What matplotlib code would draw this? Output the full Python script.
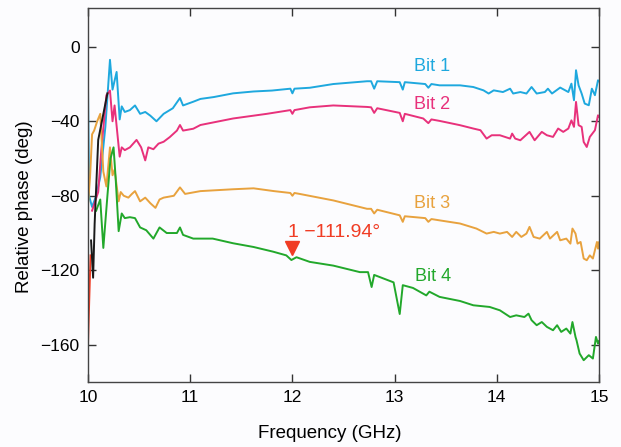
import matplotlib.pyplot as plt
import matplotlib.transforms as mtransforms

# --- DATA ---
bit1_f = [10.00, 10.01, 10.04, 10.08, 10.12, 10.17, 10.215, 10.24, 10.28, 10.31,
          10.33, 10.36, 10.41, 10.46, 10.51, 10.56, 10.61, 10.67, 10.74, 10.83,
          10.90, 10.93, 11.03, 11.10, 11.23, 11.42, 11.62, 11.80, 11.98, 12.00,
          12.02, 12.17, 12.40, 12.73, 12.77, 12.80, 12.83, 13.05, 13.08, 13.10,
          13.30, 13.33, 13.36, 13.44, 13.64, 13.77, 13.87, 13.92, 13.97, 14.06,
          14.13, 14.16, 14.23, 14.29, 14.34, 14.39, 14.47, 14.50, 14.54, 14.62,
          14.70, 14.73, 14.755, 14.775, 14.80, 14.83, 14.86, 14.90, 14.93, 14.96,
          14.99, 15.00]
bit1_v = [-20, -80, -86, -80, -70, -43, -7, -23, -13.5, -39,
          -32, -35, -34, -31.5, -36, -35, -37, -40, -36, -33,
          -27.5, -31.5, -29.5, -28, -27, -25, -24, -23.5, -22.5, -25,
          -22.5, -22, -20, -18.5, -18.5, -22.5, -18.5, -19, -23, -19,
          -20, -22, -20, -20.7, -20.7, -21.6, -23.4, -25.1, -23.4, -24.3,
          -22.5, -25.1, -24.3, -25.1, -21.6, -25.1, -24.3, -22.5, -25.1, -21.9,
          -24.3, -19.8, -28.7, -12.6, -20.7, -25.1, -30.5, -31.4, -22.5, -26,
          -18, -18.5]

bit2_f = [10.04, 10.10, 10.13, 10.18, 10.215, 10.24, 10.26, 10.31, 10.33, 10.36,
          10.41, 10.475, 10.52, 10.56, 10.59, 10.64, 10.69, 10.74, 10.80, 10.87,
          10.90, 10.93, 11.03, 11.10, 11.42, 11.75, 11.98, 12.00, 12.02, 12.17,
          12.40, 12.73, 12.77, 12.80, 12.83, 13.05, 13.08, 13.10, 13.28, 13.33,
          13.36, 13.44, 13.64, 13.77, 13.84, 13.90, 13.95, 14.03, 14.13, 14.15,
          14.18, 14.23, 14.32, 14.37, 14.44, 14.49, 14.55, 14.60, 14.65, 14.70,
          14.73, 14.755, 14.775, 14.80, 14.83, 14.85, 14.88, 14.91, 14.96, 14.99,
          15.00]
bit2_v = [-88, -78, -55.5, -26, -23.5, -40, -31.5, -59, -54, -55.5,
          -54, -50, -54, -61, -54, -55, -52, -51, -48.5, -45,
          -42, -45, -44, -42, -38.5, -36, -34, -36, -34, -32.5,
          -31.5, -32.3, -32.5, -35.5, -33, -35.5, -40, -36, -38.5, -41,
          -39, -39.8, -42.1, -43.9, -44.8, -49.3, -47.5, -47.5, -49.3, -46.6,
          -49.3, -50.2, -45.7, -50.2, -45.7, -47.5, -48.4, -43.9, -45.7, -43.9,
          -39.5, -43, -29.6, -42.1, -43, -51.1, -53.8, -48.4, -44.8, -36.8,
          -37.5]

bit3_f = [10.00, 10.02, 10.04, 10.06, 10.09, 10.12, 10.15, 10.18, 10.215, 10.24,
          10.26, 10.30, 10.32, 10.35, 10.395, 10.43, 10.46, 10.51, 10.56, 10.61,
          10.66, 10.70, 10.74, 10.84, 10.90, 10.95, 11.10, 11.42, 11.62, 11.82,
          11.98, 12.00, 12.02, 12.07, 12.40, 12.73, 12.77, 12.80, 12.83, 13.05,
          13.08, 13.10, 13.30, 13.33, 13.36, 13.44, 13.64, 13.80, 13.90, 13.97,
          14.03, 14.10, 14.15, 14.19, 14.24, 14.29, 14.32, 14.36, 14.42, 14.49,
          14.52, 14.59, 14.62, 14.68, 14.72, 14.74, 14.77, 14.79, 14.82, 14.85,
          14.88, 14.91, 14.94, 14.98, 14.99, 15.00]
bit3_v = [-85, -70, -47, -45, -40, -36, -67, -75, -54, -69,
          -66, -83, -78, -80, -81, -79, -77.5, -83, -81, -84,
          -86.5, -82, -81, -80, -75.5, -79, -77.5, -76.5, -76, -77.5,
          -78.5, -80, -78.5, -79, -82.5, -87, -87, -89.5, -87.5, -90.5,
          -94, -91, -92, -94, -92.5, -93.2, -94.9, -97.6, -100.3, -99.4,
          -100.3, -99.4, -102.1, -99.4, -102.1, -100.3, -96.7, -102.1, -103, -99.4,
          -103, -99.4, -103.9, -103, -105.7, -97.6, -100.3, -105.7, -104.8, -113.7,
          -114.6, -112, -113.7, -104.8, -108.4, -105]

bit4_f = [10.08, 10.12, 10.15, 10.19, 10.22, 10.25, 10.27, 10.30, 10.33, 10.36,
          10.41, 10.46, 10.51, 10.57, 10.64, 10.70, 10.77, 10.87, 10.90, 10.93,
          11.03, 11.22, 11.42, 11.62, 11.81, 11.94, 11.99, 12.04, 12.17, 12.40,
          12.66, 12.74, 12.775, 12.80, 12.99, 13.05, 13.08, 13.18, 13.31, 13.34,
          13.44, 13.64, 13.77, 13.93, 14.03, 14.13, 14.19, 14.27, 14.31, 14.34,
          14.39, 14.44, 14.49, 14.55, 14.59, 14.63, 14.68, 14.72, 14.74, 14.77,
          14.78, 14.81, 14.85, 14.90, 14.94, 14.97, 14.99, 15.00]
bit4_v = [-88, -82, -108, -80, -60, -54, -70, -99, -89.5, -92,
          -91.5, -92, -97, -98.5, -103, -97, -100, -100, -97, -101,
          -103, -103, -105.5, -107.5, -110, -112, -114.5, -113, -115.5, -117.5,
          -121, -121, -129, -122.5, -126.5, -143.5, -128, -129.5, -133.5, -131.5,
          -134.3, -136.5, -138.8, -139.7, -141.5, -145.1, -144.2, -145.1, -143.3, -146.8,
          -149.5, -147.8, -150.4, -152.2, -149.5, -153.1, -151.3, -154, -147.8, -155.8,
          -157.6, -164.7, -168.3, -165.6, -167.4, -155.8, -159.4, -158]

# short start-up traces near 10 GHz
red_f = [10.00, 10.01, 10.025]
red_v = [-160, -140, -112]
black_f = [10.03, 10.05, 10.065, 10.10, 10.19]
black_v = [-104, -124, -95, -50, -25]

marker_f = 12.0
marker_v = -111.94

labels = ["Bit 1", "Bit 2", "Bit 3", "Bit 4"]
label_pos = [(13.37, -10.5), (13.37, -31), (13.37, -84), (13.38, -123.5)]
colors = ["#1ea8de", "#e8317b", "#e8a23e", "#22a82b"]

plt.rcParams['font.family'] = ['Liberation Sans', 'DejaVu Sans']

fig = plt.figure(figsize=(6.21, 4.47), dpi=100, facecolor='#fcfcfe')
ax = fig.add_axes([0.1417, 0.1454, 0.8229, 0.8366])
ax.set_facecolor('#fcfcfe')

series = [(bit1_f, bit1_v), (bit2_f, bit2_v), (bit3_f, bit3_v), (bit4_f, bit4_v)]
for (f, v), c in zip(series, colors):
    ax.plot(f, v, color=c, lw=1.4)
ax.plot(red_f, red_v, color='#f03c24', lw=1.4)
ax.plot(black_f, black_v, color='#1a1a1a', lw=1.4)

for lab, (x, y), c in zip(labels, label_pos, colors):
    ax.text(x, y, lab, color=c, fontsize=13, ha='center', va='center')

# marker: tip of the triangle sits on the value
shift = mtransforms.offset_copy(ax.transData, fig=fig, x=0, y=5, units='points')
ax.plot(marker_f, marker_v, marker='v', color='#f03c24', ms=10, transform=shift)
ax.text(11.955, -99.5, "1 \u2212111.94\u00b0", color='#f03c24', fontsize=14,
        ha='left', va='center')

ax.set_xlim(10, 15)
ax.set_ylim(-180, 20.8)
ax.set_xticks([10, 11, 12, 13, 14, 15])
ax.set_yticks([0, -40, -80, -120, -160])
ax.set_yticklabels(["0", "\u221240", "\u221280", "\u2212120", "\u2212160"])
ax.tick_params(direction='in', length=6, width=1, labelsize=12.5, color='#333333',
               top=True, right=True, pad=6)
for s in ax.spines.values():
    s.set_color('#444444')
    s.set_linewidth(1)

ax.set_xlabel("Frequency (GHz)", fontsize=13.5)
ax.set_ylabel("Relative phase (deg)", fontsize=13.5)
ax.xaxis.set_label_coords(0.4736, -0.115)
ax.yaxis.set_label_coords(-0.108, 0.468)

fig.savefig('out.png', dpi=100, facecolor=fig.get_facecolor())
